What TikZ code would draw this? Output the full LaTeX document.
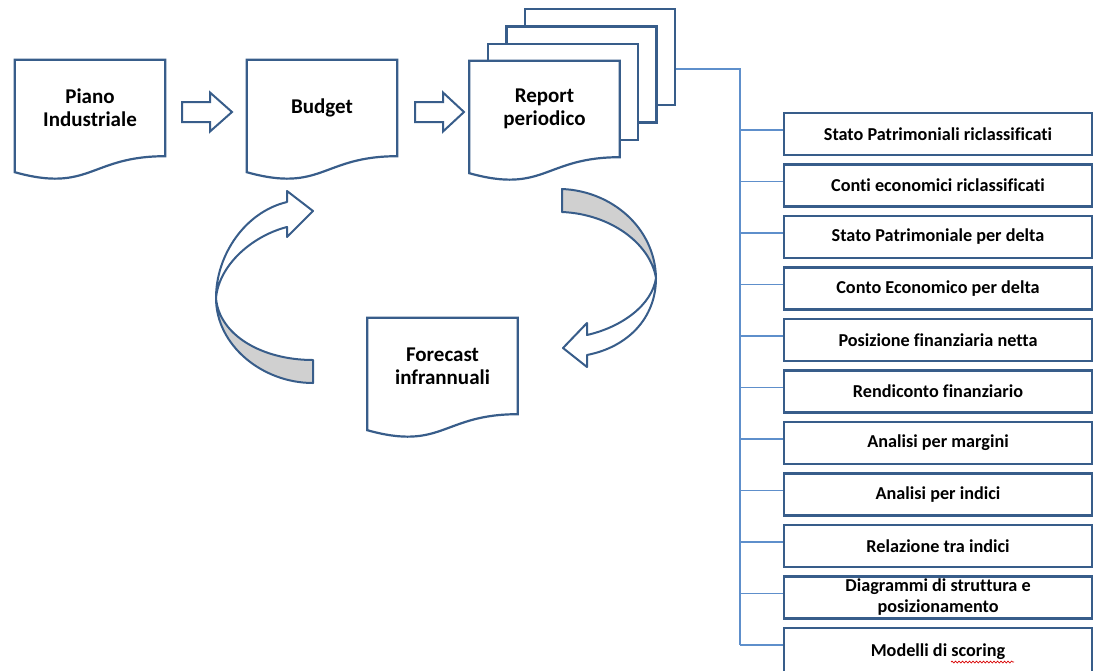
\documentclass[tikz,border=0pt]{standalone}
\usepackage{fontspec}
\setmainfont{Carlito}[Ligatures=NoCommon]
\usetikzlibrary{calc,decorations.pathmorphing}
\definecolor{shapeblue}{HTML}{385D8A}
\definecolor{linkblue}{HTML}{5E8FCB}
\definecolor{ribbongray}{HTML}{D0D0D0}
\pgfdeclarelayer{bg}
\pgfsetlayers{bg,main}

% outline of a flowchart "document" sheet around a text node
\newcommand\docoutline[1]{%
  \path[docline] (#1.north west) -- (#1.north east) -- (#1.south east)
    .. controls (#1.south) and ($(#1.south)+(0,37)$) .. ($(#1.south west)+(0,16)$) -- cycle;}

\begin{document}
\begin{tikzpicture}[x=1pt,y=-1pt,
  doctext/.style={minimum width=150pt, minimum height=96pt, inner sep=0pt, align=center,
    font=\bfseries\fontsize{21}{23}\selectfont},
  docline/.style={draw=shapeblue, line width=2.2pt, fill=white, line join=miter},
  page/.style={docline, minimum width=150pt, minimum height=96pt, inner sep=0pt},
  itembox/.style={draw=shapeblue, line width=2.7pt, fill=white, minimum width=308pt,
    minimum height=42pt, inner sep=0pt, align=center, font=\bfseries\fontsize{18.2}{21}\selectfont},
  conn/.style={draw=linkblue, line width=1.3pt},
  blockarrow/.style={draw=shapeblue, line width=2pt, fill=white, line join=miter},
  ribbon/.style={draw=shapeblue, line width=2pt, line join=round}]

\useasboundingbox (0,0) rectangle (1097,670);
\clip (0,0) rectangle (1097,670);

% document nodes
\node[doctext] (piano) at (90,108) {Piano\\Industriale};
\node[doctext] (budget) at (322,108) {Budget};
\node[doctext] (report) at (544.5,109) {Report\\periodico};
\node[doctext] (forecast) at (442.5,366) {Forecast\\infrannuali};

\begin{pgfonlayer}{bg}
  \node[page] (rp3) at ($(report)+(55.5,-52)$) {};
  \node[page] (rp2) at ($(report)+(37,-34.6)$) {};
  \node[page] (rp1) at ($(report)+(18.5,-17.3)$) {};
  \docoutline{piano}
  \docoutline{budget}
  \docoutline{report}
  \docoutline{forecast}
\end{pgfonlayer}

% block arrows
\path[blockarrow, shift={(182,112)}] (0,-10) -- (28,-10) -- (28,-19.5) -- (50,0) -- (28,19.5) -- (28,10) -- (0,10) -- cycle;
\path[blockarrow, shift={(415,112)}] (0,-10) -- (28,-10) -- (28,-19.5) -- (49,0) -- (28,19.5) -- (28,10) -- (0,10) -- cycle;

% left circular arrow (forecast back to budget)
\path[ribbon, fill=ribbongray] (216,298) .. controls (216,345) and (262,383) .. (313,383)
  -- (313,360) .. controls (262,360) and (219,335) .. (216,298) -- cycle;
\path[ribbon, fill=white] (216,298) .. controls (216,255) and (245,212) .. (287,202)
  -- (287,191) -- (313,211) -- (287,237) -- (287,227)
  .. controls (252,236) and (219,265) .. (216,298) -- cycle;

% right circular arrow (report down to forecast)
\path[ribbon, fill=ribbongray] (562,189) .. controls (612,191) and (655,228) .. (656,278)
  .. controls (650,243) and (610,214) .. (562,212) -- cycle;
\path[ribbon, fill=white] (656,278) .. controls (656,318) and (628,347) .. (587,355)
  -- (587,367) -- (563,348) -- (587,323) -- (587,335)
  .. controls (622,327) and (652,305) .. (656,278) -- cycle;

% analysis list
\foreach \t [count=\i] in {Stato Patrimoniali riclassificati, Conti economici riclassificati,
  Stato Patrimoniale per delta, Conto Economico per delta, Posizione finanziaria netta,
  Rendiconto finanziario, Analisi per margini, Analisi per indici, Relazione tra indici,
  {Diagrammi di struttura e\\posizionamento}}{
  \node[itembox] (b\i) at (938,{134+(\i-1)*51.5}) {\t};
}
\node[itembox, minimum height=48pt] (b11) at (938,652) {Modelli di scoring};
\draw[red!85!black, line width=0.7pt, decorate, decoration={snake, amplitude=0.9pt, segment length=3.5pt}]
  (951,662) -- (1014,662);

% tree connector from the report stack to the list
\coordinate (trunktop) at (740,69);
\foreach \i in {1,...,11}{\coordinate (c\i) at ([yshift=4pt]b\i.west);}
\coordinate (c11) at ([yshift=7pt]b11.west);
\draw[conn] (rp3.east |- trunktop) -- (trunktop) -- (trunktop |- c11);
\foreach \i in {1,...,11}{\draw[conn] (trunktop |- c\i) -- (c\i);}
\end{tikzpicture}
\end{document}
